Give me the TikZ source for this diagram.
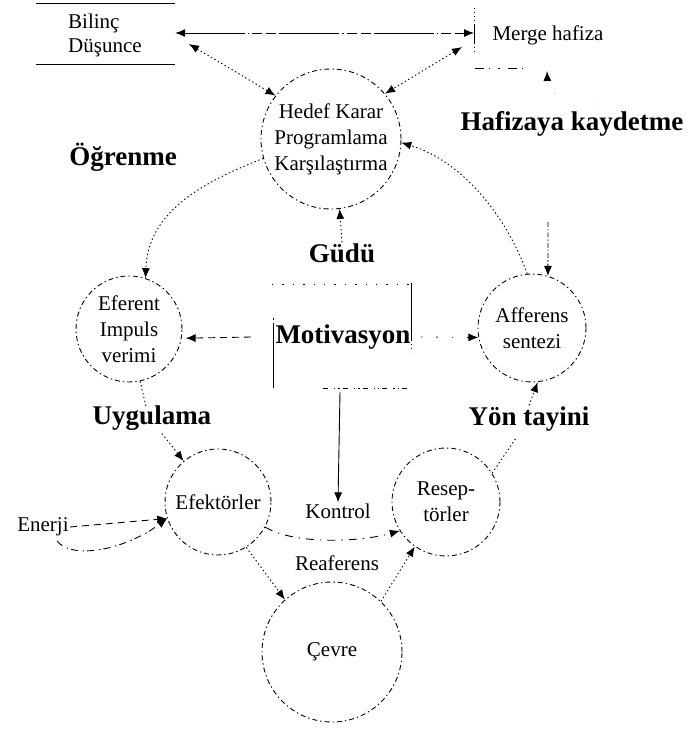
\documentclass[tikz,border=0pt]{standalone}
\usepackage{fontspec}
\setmainfont{Liberation Serif}
\usetikzlibrary{arrows.meta,calc}

\tikzset{
  base/.style={line width=0.9pt},
  tip/.style={-{Latex[length=10pt,width=8pt]}},
  twotip/.style={{Latex[length=10pt,width=8pt]}-{Latex[length=10pt,width=8pt]}},
  dotline/.style={base, dash pattern=on 1.4pt off 2.6pt},
  dashdot/.style={base, dash pattern=on 6pt off 3pt on 1.4pt off 3pt},
  dashline/.style={base, dash pattern=on 7pt off 5pt},
  ring/.style={circle, draw, base, dash pattern=on 5pt off 3pt on 1.4pt off 3pt,
    inner sep=0pt, align=center, font=\fontsize{21}{26}\selectfont},
  txt/.style={inner sep=1pt, align=center, font=\fontsize{21}{24}\selectfont},
  head/.style={inner sep=1pt, font=\fontsize{27}{30}\selectfont\bfseries},
}

\begin{document}
\begin{tikzpicture}[x=1pt, y=-1pt]
\useasboundingbox (0,0) rectangle (688,729);

% ---- circles ----
\node[ring, minimum size=140pt] (hedef) at (331,139)
  {Hedef Karar\\Programlama\\Karşılaştırma};
\node[ring, minimum size=106pt] (efer) at (129,329) {Eferent\\Impuls\\verimi};
\node[ring, minimum size=108pt] (affer) at (532,328) {Afferens\\sentezi};
\node[ring, minimum size=106pt] (efek) at (218,502) {Efektörler};
\node[ring, minimum size=108pt] (resep) at (446,502) {Resep-\\törler};
\node[ring, minimum size=140pt] (cevre) at (332,652) {Çevre};

% ---- box with two rules ----
\node[minimum width=139pt, minimum height=60pt, inner sep=0pt] (bilinc) at (105.5,34) {};
\node[txt, anchor=west, align=left] (bilinctxt) at (67,35) {Bilinç\\Düşunce};
\draw[base] (bilinc.north west) -- (bilinc.north east);
\draw[base] (bilinc.south west) -- (bilinc.south east);

% ---- memory store ----
\node[txt] (merge) at (548,35) {Merge hafiza};
\coordinate (mbar) at (474,33);
\draw[dotline] (474,8) -- (474,25);
\draw[base] (474,25) -- (474,43);
\draw[dotline] (474,43) -- (474,54);

% ---- bold labels ----
\node[head] (ogr) at (123,157) {Öğrenme};
\node[head] (hafiz) at (572,124) {Hafizaya kaydetme};
\node[head] (gudu) at (342,253) {Güdü};
\node[head] (motiv) at (343,337) {Motivasyon};
\node[head] (uyg) at (152,418) {Uygulama};
\node[head] (yon) at (529,419) {Yön tayini};

% ---- plain labels ----
\node[txt] (kontrol) at (338,511) {Kontrol};
\node[txt] (reaf) at (337,563) {Reaferens};
\node[txt] (enerji) at (43,527) {Enerji};

% ---- motivation frame ----
\coordinate (mtl) at (272,284);
\coordinate (mbr) at (411,388);
\draw[base, dash pattern=on 1.4pt off 9pt] (mtl) -- (mtl -| mbr);
\draw[base] (273,318) -- (273,319.5);
\draw[base] (273,323) -- (273,388);
\draw[base] (411,283) -- (411,340);
\draw[dotline] (411,340) -- (411,352);
\draw[base, dash pattern=on 5pt off 6pt on 1.4pt off 3pt on 1.4pt off 3pt] (323,388) -- (mbr);

% ---- top connectors ----
\draw[dashdot, twotip, dash pattern=on 60pt off 3pt on 1.4pt off 3pt on 10pt off 4pt on 10pt off 3pt]
  (bilinc.east |- mbar) -- (mbar);
\coordinate (bl) at (189,44);
\draw[dotline, twotip] (bl) -- (hedef.142);
\coordinate (mg) at (462,47);
\draw[dotline, twotip] (mg) -- (hedef.40);
\draw[base, dash pattern=on 9pt off 5pt on 1.4pt off 8pt on 1.4pt off 8pt] (475,68) -- (527,68);
\coordinate (hk) at (593,104);
\draw[base, dash pattern=on 0.1pt off 40pt, tip] (hk) .. controls (570,95) and (548,100) .. (547,71);

% ---- learning side ----
\draw[dotline, tip] (hedef.196) .. controls (195,185) and (148,215) .. (efer.72);
\draw[dotline, tip] (gudu.north) -- (hedef.-83);
\coordinate (mleft) at (251,337);
\draw[dashline, tip, shorten >=4pt] (mleft) -- (efer.-10);
\coordinate (mright) at (421,337);
\draw[dotline, dash pattern=on 1.4pt off 14pt, tip] (mright) -- (affer.190);
\draw[dotline] (efer.-78) -- ($(uyg.north)+(-6,2)$);
\draw[dotline, tip] ($(uyg.south)+(10,2)$) -- (efek.130);

% ---- afferent side ----
\coordinate (aftop) at (548,222);
\draw[dashdot, dash pattern=on 5pt off 2pt on 1.4pt off 2pt, tip] (aftop) -- (affer.73);
\draw[dotline, tip] (affer.95) .. controls (508,220) and (465,162) .. (hedef.-3);
\draw[dotline, tip] (yon.north) -- (affer.-84);
\coordinate (ys) at (516,438);
\draw[dotline] (resep.32) -- (ys);

% ---- control loop ----
\draw[base, tip] (340,392) -- (kontrol.north);
\draw[dashline, dash pattern=on 8pt off 6pt on 1.4pt off 6pt, tip]
  (efek.-28) .. controls (295,545) and (360,542) .. (resep.212);
\draw[dotline, tip] (efek.-58) -- (cevre.132);
\draw[dotline, tip] (cevre.46) -- (resep.235);

% ---- energy input ----
\draw[dashline, tip] (enerji.east) -- (efek.198);
\draw[dashline, dash pattern=on 7pt off 5pt on 1.4pt off 3pt, tip]
  (57,541) .. controls (72,560) and (125,550) .. (efek.198);
\end{tikzpicture}
\end{document}
